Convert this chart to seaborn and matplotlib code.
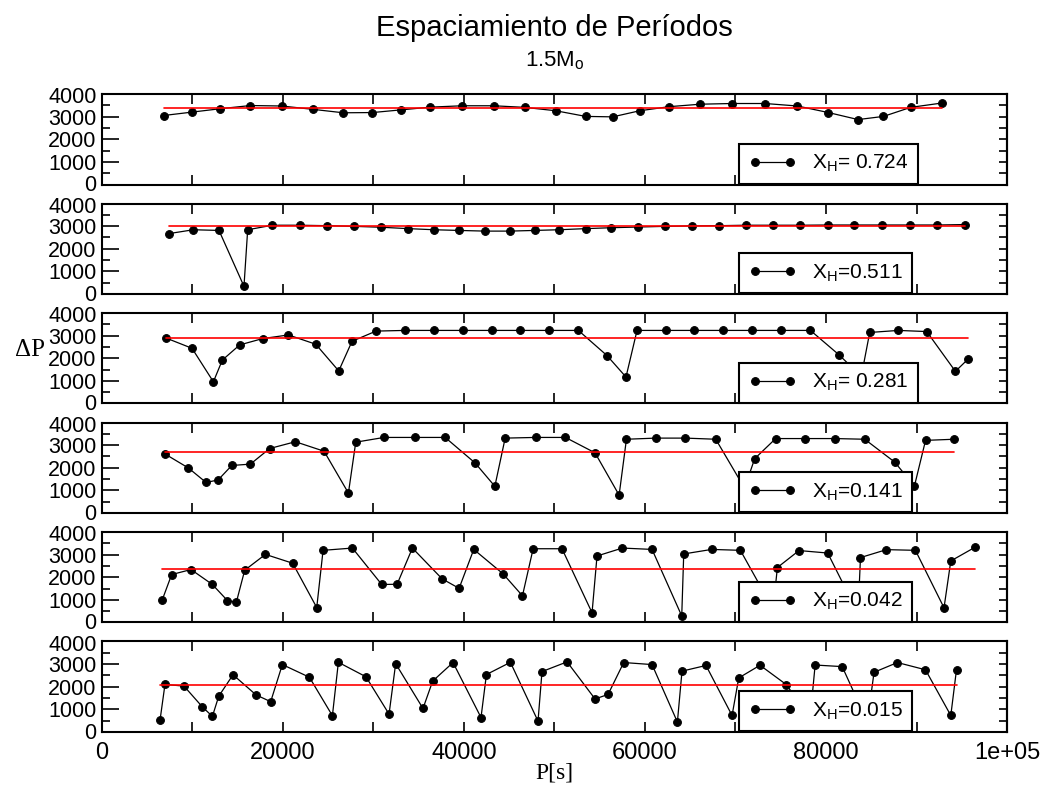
import matplotlib
matplotlib.use("Agg")
import matplotlib.pyplot as plt
import matplotlib.transforms as mtransforms
import seaborn as sns
import numpy as np

# ---------------- data ----------------
x1 = [6820, 9950, 13080, 16400, 19860, 23360, 26670, 29880, 33080, 36290, 39820, 43280, 46710, 50140,
      53450, 56430, 59420, 62660, 66120, 69660, 73270, 76840, 80270, 83550, 86350, 89360, 92790]
y1 = [3050, 3200, 3350, 3490, 3470, 3320, 3170, 3180, 3300, 3420, 3480, 3480, 3410, 3260,
      3010, 2990, 3260, 3440, 3550, 3580, 3580, 3470, 3180, 2870, 3010, 3410, 3600]
mean1 = 3380

x2 = [7400, 10100, 12930, 15690, 16100, 18830, 21850, 24870, 27890, 30870, 33810, 36690, 39450, 42290,
      45050, 47810, 50500, 53480, 56290, 59230, 62180, 65160, 68150, 71130, 74150, 77180, 80190, 83140,
      86160, 89260, 92320, 95370]
y2 = [2670, 2840, 2810, 340, 2840, 3040, 3040, 3020, 2990, 2950, 2890, 2840, 2810, 2780,
      2780, 2810, 2840, 2890, 2930, 2960, 2990, 3010, 3020, 3040, 3040, 3040, 3050, 3050,
      3050, 3050, 3050, 3070]
mean2 = 3000

x3 = [7040, 9950, 12310, 13300, 15220, 17760, 20600, 23620, 26160, 27630, 30280, 33450, 36690, 39860,
      43060, 46230, 49440, 52640, 55800, 57900, 59120, 62290, 65420, 68620, 71830, 75030, 78280, 81440,
      83900, 84830, 88000, 91130, 94300, 95740]
y3 = [2900, 2440, 960, 1920, 2590, 2870, 3030, 2620, 1440, 2750, 3200, 3230, 3230, 3230,
      3230, 3230, 3230, 3230, 2120, 1170, 3230, 3230, 3230, 3230, 3230, 3230, 3230, 2150,
      1200, 3140, 3230, 3180, 1420, 1980]
mean3 = 2910

x4 = [7000, 9550, 11500, 12830, 14340, 16400, 18530, 21370, 24540, 27230, 28040, 31170, 34560, 37920,
      41230, 43410, 44550, 47910, 51210, 54480, 57140, 57950, 61190, 64470, 67820, 71000, 72120, 74440,
      77720, 80990, 84280, 87590, 89770, 91000, 94150]
y4 = [2600, 1990, 1350, 1460, 2100, 2160, 2850, 3150, 2730, 880, 3130, 3340, 3340, 3340,
      2210, 1180, 3310, 3340, 3340, 2660, 790, 3260, 3310, 3310, 3260, 1100, 2400, 3290,
      3290, 3290, 3260, 2250, 1190, 3210, 3260]
mean4 = 2690

x5 = [6670, 7700, 9840, 12200, 13860, 14850, 15770, 18060, 21070, 23730, 24430, 27670, 30910, 32610,
      34300, 37580, 39460, 41080, 44320, 46460, 47640, 50830, 54150, 54700, 57500, 60780, 64060, 64280,
      67370, 70540, 74150, 74630, 77020, 80190, 83540, 83810, 86680, 89880, 93040, 93790, 96440]
y5 = [1010, 2120, 2340, 1680, 970, 900, 2310, 3010, 2620, 660, 3190, 3290, 1680, 1690,
      3290, 1930, 1510, 3230, 2150, 1180, 3260, 3260, 430, 2940, 3290, 3230, 290, 3030,
      3230, 3190, 600, 2430, 3180, 3070, 400, 2870, 3220, 3190, 650, 2720, 3320]
mean5 = 2350

x6 = [6410, 6960, 9060, 11090, 12200, 12900, 14480, 17020, 18640, 19930, 22920, 25460, 26120, 29170,
      31720, 32450, 35470, 36540, 38790, 41880, 42480, 45130, 48180, 48620, 51390, 54480, 55920, 57650,
      60780, 63580, 64090, 66740, 69620, 70360, 72710, 75630, 78240, 78800, 81790, 84570, 85310, 87890,
      90990, 93790, 94420]
y6 = [510, 2100, 2030, 1110, 690, 1580, 2530, 1640, 1340, 2980, 2420, 720, 3080, 2440,
      790, 3020, 1040, 2250, 3070, 640, 2540, 3080, 480, 2670, 3100, 1460, 1660, 3070,
      2980, 440, 2690, 2940, 730, 2390, 2950, 2090, 600, 2960, 2890, 450, 2640, 3070,
      2750, 730, 2760]
mean6 = 2080

labels = ["X$_\\mathrm{H}$= 0.724", "X$_\\mathrm{H}$=0.511", "X$_\\mathrm{H}$= 0.281",
          "X$_\\mathrm{H}$=0.141", "X$_\\mathrm{H}$=0.042", "X$_\\mathrm{H}$=0.015"]
xticklabels = ["0", "20000", "40000", "60000", "80000", "1e+05"]
yticklabels = ["0", "1000", "2000", "3000", "4000"]

series = [(x1, y1, mean1), (x2, y2, mean2), (x3, y3, mean3),
          (x4, y4, mean4), (x5, y5, mean5), (x6, y6, mean6)]

# ---------------- style ----------------
sns.set_style("white")
plt.rcParams["font.family"] = ["Liberation Sans", "DejaVu Sans"]
plt.rcParams["mathtext.fontset"] = "custom"
plt.rcParams["mathtext.rm"] = "Liberation Sans"
plt.rcParams["mathtext.it"] = "Liberation Sans:italic"
plt.rcParams["axes.edgecolor"] = "black"
plt.rcParams["axes.linewidth"] = 1.5
plt.rcParams["text.color"] = "black"
plt.rcParams["xtick.color"] = "black"
plt.rcParams["ytick.color"] = "black"
plt.rcParams["axes.labelcolor"] = "black"

fig = plt.figure(figsize=(10.47, 7.94), dpi=100)
axes = fig.subplots(6, 1, sharex=True)
fig.subplots_adjust(left=0.0974, right=0.9618, top=0.8816, bottom=0.0781, hspace=0.21)

for i, (ax, (xs, ys, m)) in enumerate(zip(axes, series)):
    sns.lineplot(x=xs, y=ys, ax=ax, color="black", marker="o", markersize=5.6,
                 markeredgecolor="black", linewidth=0.9, sort=False, estimator=None)
    sns.lineplot(x=[xs[0], xs[-1]], y=[m, m], ax=ax, color="red", linewidth=1.2,
                 sort=False, estimator=None)
    ax.set_xlim(0, 100000)
    ax.set_ylim(0, 4000)
    ax.set_yticks([0, 1000, 2000, 3000, 4000])
    ax.set_yticklabels(yticklabels)
    ax.set_yticks(np.arange(500, 4000, 1000), minor=True)
    ax.tick_params(axis="y", which="major", direction="in", length=12, width=1.2,
                   left=True, right=False, labelsize=15.5, pad=4, colors="black")
    ax.tick_params(axis="y", which="minor", direction="in", length=6, width=1.2,
                   left=True, right=False, colors="black")
    sec = ax.secondary_yaxis("right")
    sec.set_yticks([0, 1000, 2000, 3000, 4000])
    sec.set_yticks(np.arange(500, 4000, 1000), minor=True)
    sec.tick_params(which="both", direction="in", length=6, width=1.2, labelright=False,
                    colors="black")
    sec.spines["right"].set_linewidth(1.5)
    sec.spines["right"].set_color("black")
    ax.set_xlabel("")
    ax.set_ylabel("")
    for s in ax.spines.values():
        s.set_color("black")
        s.set_linewidth(1.5)
    ax.set_xticks([0, 20000, 40000, 60000, 80000, 100000])
    ax.set_xticks(np.arange(10000, 100000, 20000), minor=True)
    ax.tick_params(axis="x", which="both", direction="in", length=7, width=1.2,
                   top=True, bottom=True, labelsize=17, pad=7, colors="black")
    leg = ax.legend(handles=[ax.lines[0]], labels=[labels[i]], loc="lower left",
                    bbox_to_anchor=(0.704, 0.01), borderaxespad=0, numpoints=2,
                    handlelength=2.3, handletextpad=0.75, fontsize=15, fancybox=False,
                    framealpha=1, edgecolor="black", borderpad=0.45)
    leg.get_frame().set_linewidth(1.5)
    for t in leg.get_texts():
        t.set_color("black")

axes[-1].set_xticklabels(xticklabels)
for ax in axes[:-1]:
    ax.tick_params(axis="x", labelbottom=False)

# nudge the end labels of each panel slightly so neighbouring panels' labels don't collide
up = mtransforms.ScaledTranslation(0, 1.0 / 72, fig.dpi_scale_trans)
down = mtransforms.ScaledTranslation(0, -1.0 / 72, fig.dpi_scale_trans)
for ax in axes:
    ticks = ax.yaxis.get_major_ticks()
    ticks[0].label1.set_transform(ticks[0].label1.get_transform() + up)
    ticks[-1].label1.set_transform(ticks[-1].label1.get_transform() + down)

fig.text(0.5296, 0.9647, "Espaciamiento de Períodos", ha="center", va="center", fontsize=21)
fig.text(0.5296, 0.924, "1.5M$_\\mathrm{o}$", ha="center", va="center", fontsize=16)
fig.text(0.0287, 0.559, "ΔP", ha="center", va="center", fontsize=18,
         family=["Liberation Serif", "DejaVu Serif"])
fig.text(0.5296, 0.0264, "P[s]", ha="center", va="center", fontsize=17,
         family=["Liberation Serif", "DejaVu Serif"])

fig.savefig("out.png", dpi=100)
